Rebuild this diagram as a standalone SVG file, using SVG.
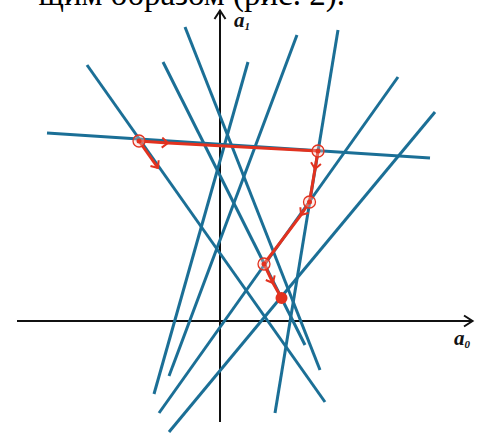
<svg xmlns="http://www.w3.org/2000/svg" width="491" height="433" viewBox="0 0 491 433">
<style>
.ax{stroke:#111;stroke-width:2;fill:none}
.bl{stroke:#1b6f96;stroke-width:3;stroke-linecap:butt;fill:none}
.rd{stroke:#e2321f;stroke-width:3;fill:none}
.ring{stroke:#e2321f;stroke-width:1.3;fill:#f6c9c0;fill-opacity:0.35}
.dot{fill:#e2321f}
.lab{font-style:italic;font-weight:bold;fill:#111}
</style>
<defs>
<marker id="chev" markerUnits="userSpaceOnUse" viewBox="-8 -6 10 12" markerWidth="10" markerHeight="12" refX="0" refY="0" orient="auto">
<path d="M-6,-5 L0,0 L-6,5" stroke="#e2321f" stroke-width="2" fill="none"/>
</marker>
</defs>
<rect width="491" height="433" fill="#fff"/>
<text font-family="'Liberation Serif','DejaVu Serif',serif" x="345" y="5" font-size="33" text-anchor="end" fill="#000">щим образом (рис. 2).</text>
<g id="axes">
<line class="ax" x1="220" y1="422" x2="220" y2="11"/>
<path class="ax" d="M214.5,19 L220,10.5 L225.5,19"/>
<line class="ax" x1="17" y1="321" x2="472" y2="321"/>
<path class="ax" d="M464,315.5 L472.5,321 L464,326.5"/>
</g>
<g id="lines">
<line class="bl" x1="87" y1="65" x2="325" y2="402"/>
<line class="bl" x1="47" y1="133" x2="430" y2="158"/>
<line class="bl" x1="185" y1="27" x2="320" y2="370"/>
<line class="bl" x1="163" y1="62" x2="305" y2="345"/>
<line class="bl" x1="248" y1="62" x2="154" y2="394"/>
<line class="bl" x1="297" y1="35" x2="169" y2="376"/>
<line class="bl" x1="338" y1="30" x2="275" y2="413"/>
<line class="bl" x1="398" y1="77" x2="159" y2="413"/>
<line class="bl" x1="435" y1="112" x2="169" y2="432"/>
</g>
<g id="path">
<path class="rd" d="M139,141 L168,143 L318,151" marker-mid="url(#chev)"/>
<path class="rd" d="M318,151 L315,169 L309.5,202" marker-mid="url(#chev)"/>
<path class="rd" d="M309.5,202 L301,215 L264,264" marker-mid="url(#chev)"/>
<path class="rd" d="M264,264 L273,283 L281.5,298" marker-mid="url(#chev)"/>
<path class="rd" d="M139,141 L158,168" marker-end="url(#chev)"/>
</g>
<g id="points">
<circle class="ring" cx="139" cy="141" r="6"/><circle class="dot" cx="139" cy="141" r="2.5"/>
<circle class="ring" cx="318" cy="151" r="6"/><circle class="dot" cx="318" cy="151" r="2.5"/>
<circle class="ring" cx="309.5" cy="202" r="6"/><circle class="dot" cx="309.5" cy="202" r="2.5"/>
<circle class="ring" cx="264" cy="264" r="6"/><circle class="dot" cx="264" cy="264" r="2.5"/>
<circle class="dot" cx="281.5" cy="298" r="6"/>
</g>
<g id="labels" font-family="'Liberation Serif','DejaVu Serif',serif">
<text class="lab" x="234" y="27" font-size="21">a<tspan font-size="11" dy="3">1</tspan></text>
<text class="lab" x="454" y="345" font-size="21">a<tspan font-size="11" dy="3">0</tspan></text>
</g>
</svg>
